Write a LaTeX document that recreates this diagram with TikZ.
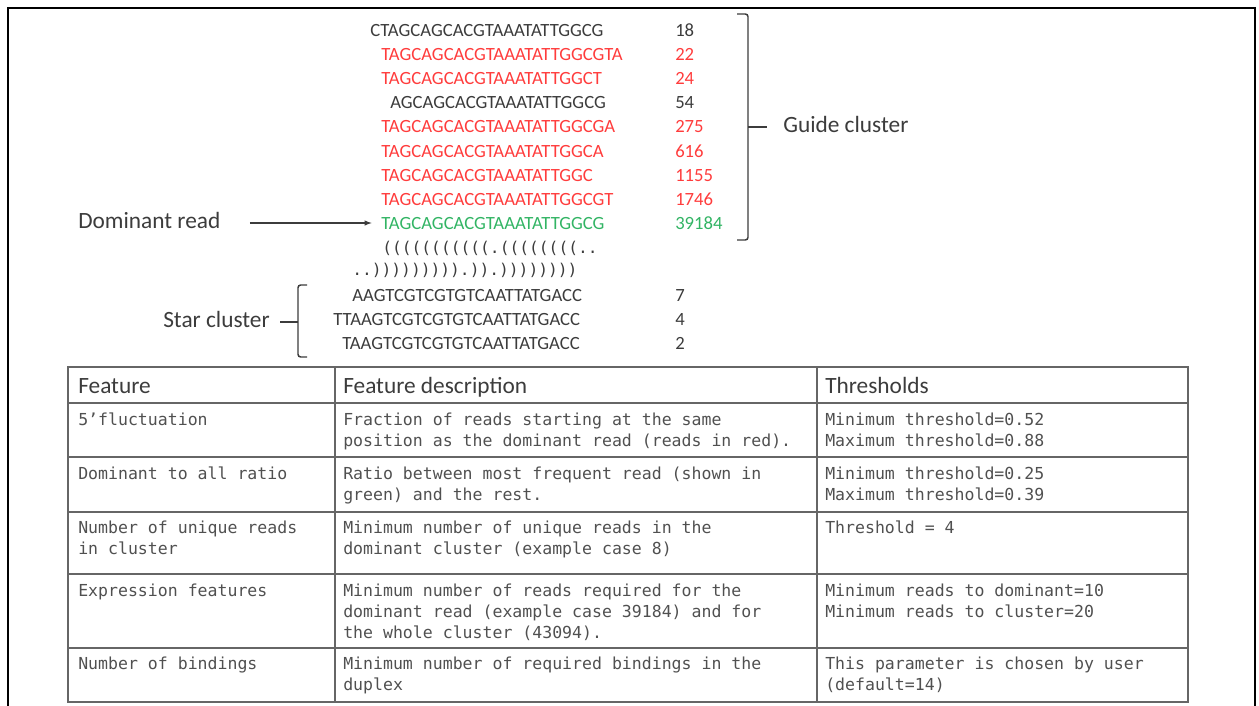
\documentclass[tikz,border=0pt]{standalone}
\usepackage{fontspec}
\setmainfont{Carlito}
\newfontfamily\tabmono{DejaVu Sans Mono}
\usepackage{tikz}
\usetikzlibrary{arrows}

\definecolor{readred}{RGB}{255,60,60}
\definecolor{readgreen}{RGB}{50,180,100}
\definecolor{inkgray}{RGB}{60,60,60}
\definecolor{tabgray}{RGB}{80,80,80}

\tikzset{
  seq/.style={anchor=base west, inner sep=0pt, text=inkgray, font=\fontsize{14}{16}\selectfont},
  dotbr/.style={anchor=base west, inner sep=0pt, text=inkgray, font=\tabmono\fontsize{12.2}{15}\selectfont},
  lbl/.style={anchor=base west, inner sep=0pt, text=inkgray, font=\fontsize{17.5}{20}\selectfont},
  cell/.style={anchor=north west, inner sep=0pt, align=left, text=tabgray, font=\tabmono\fontsize{12.4}{15.75}\selectfont},
  grid/.style={draw=black!60, line width=0.9pt}
}

\begin{document}
\begin{tikzpicture}[x=0.75pt,y=0.75pt,yscale=-1,xscale=1]
\useasboundingbox (0,0) rectangle (1259,706);

%Frame
\draw [line width=1.5pt] (8,706) -- (8,8) -- (1255,8) -- (1255,706) ;

% Guide cluster reads
\node [seq] (s1) at (370,37) {CTAGCAGCACGTAAATATTGGCG};
\node [seq, text=readred] (s2) at (381,61) {TAGCAGCACGTAAATATTGGCGTA};
\node [seq, text=readred] (s3) at (381,85) {TAGCAGCACGTAAATATTGGCT};
\node [seq] (s4) at (390,109) {AGCAGCACGTAAATATTGGCG};
\node [seq, text=readred] (s5) at (381,133) {TAGCAGCACGTAAATATTGGCGA};
\node [seq, text=readred] (s6) at (381,157) {TAGCAGCACGTAAATATTGGCA};
\node [seq, text=readred] (s7) at (381,181) {TAGCAGCACGTAAATATTGGC};
\node [seq, text=readred] (s8) at (381,205) {TAGCAGCACGTAAATATTGGCGT};
\node [seq, text=readgreen] (dom) at (381,229) {TAGCAGCACGTAAATATTGGCG};

% Read counts
\node [seq] (n1) at (675,37) {18};
\node [seq, text=readred] (n2) at (675,61) {22};
\node [seq, text=readred] (n3) at (675,85) {24};
\node [seq] (n4) at (675,109) {54};
\node [seq, text=readred] (n5) at (675,133) {275};
\node [seq, text=readred] (n6) at (675,157) {616};
\node [seq, text=readred] (n7) at (675,181) {1155};
\node [seq, text=readred] (n8) at (675,205) {1746};
\node [seq, text=readgreen] (n9) at (675,229) {39184};

% Duplex structure
\node [dotbr] (db1) at (382,253) {(((((((((((.((((((((..};
\node [dotbr] (db2) at (352,275) {..))))))))).)).))))))))};

% Star cluster reads
\node [seq] (r1) at (352,301) {AAGTCGTCGTGTCAATTATGACC};
\node [seq] (r2) at (333,325) {TTAAGTCGTCGTGTCAATTATGACC};
\node [seq] (r3) at (342,349) {TAAGTCGTCGTGTCAATTATGACC};
\node [seq] (m1) at (675,301) {7};
\node [seq] (m2) at (675,325) {4};
\node [seq] (m3) at (675,349) {2};

% Labels
\node [lbl] (domlbl) at (78,228) {Dominant read};
\node [lbl] (guidelbl) at (783,133) {Guide cluster};
\node [lbl] (starlbl) at (163,327) {Star cluster};

%Arrow to dominant read
\draw [-latex, color=inkgray, line width=0.8pt, shorten <=22pt, shorten >=7pt] (domlbl.east |- dom.west) -- (dom.west) ;

%Brackets
\draw [color=inkgray, line width=1.1pt, rounded corners=2pt] (737,14) -- (748,14) -- (748,240) -- (737,240) ;
\coordinate (gtick) at (748,127);
\draw [color=inkgray, line width=1.1pt] (gtick) -- ++(19,0) ;
\draw [color=inkgray, line width=1.1pt, rounded corners=2pt] (307,285) -- (298,285) -- (298,357) -- (307,357) ;
\coordinate (stick) at (298,322);
\draw [color=inkgray, line width=1.1pt] (stick) -- ++(-18,0) ;

%Table grid
\draw [grid] (68,367) rectangle (1188,702) ;
\draw [grid] (335,367) -- (335,702) ;
\draw [grid] (817,367) -- (817,702) ;
\draw [grid] (68,403) -- (1188,403) ;
\draw [grid] (68,457) -- (1188,457) ;
\draw [grid] (68,512) -- (1188,512) ;
\draw [grid] (68,574) -- (1188,574) ;
\draw [grid] (68,648) -- (1188,648) ;

% Header
\node [lbl] (h1) at (78,393) {Feature};
\node [lbl] (h2) at (343,393) {Feature description};
\node [lbl] (h3) at (825,393) {Thresholds};

% Row 1
\node [cell] (a1) at (78,411) {\strut 5’fluctuation};
\node [cell] (b1) at (343,411) {\strut Fraction of reads starting at the same\\position as the dominant read (reads in red).};
\node [cell] (c1) at (825,411) {\strut Minimum threshold=0.52\\Maximum threshold=0.88};
% Row 2
\node [cell] (a2) at (78,465) {\strut Dominant to all ratio};
\node [cell] (b2) at (343,465) {\strut Ratio between most frequent read (shown in\\green) and the rest.};
\node [cell] (c2) at (825,465) {\strut Minimum threshold=0.25\\Maximum threshold=0.39};
% Row 3
\node [cell] (a3) at (78,519) {\strut Number of unique reads\\in cluster};
\node [cell] (b3) at (343,519) {\strut Minimum number of unique reads in the\\dominant cluster (example case 8)};
\node [cell] (c3) at (825,519) {\strut Threshold = 4};
% Row 4
\node [cell] (a4) at (78,582) {\strut Expression features};
\node [cell] (b4) at (343,582) {\strut Minimum number of reads required for the\\dominant read (example case 39184) and for\\the whole cluster (43094).};
\node [cell] (c4) at (825,582) {\strut Minimum reads to dominant=10\\Minimum reads to cluster=20};
% Row 5
\node [cell] (a5) at (78,655) {\strut Number of bindings};
\node [cell] (b5) at (343,655) {\strut Minimum number of required bindings in the\\duplex};
\node [cell] (c5) at (825,655) {\strut This parameter is chosen by user\\(default=14)};

\end{tikzpicture}
\end{document}
